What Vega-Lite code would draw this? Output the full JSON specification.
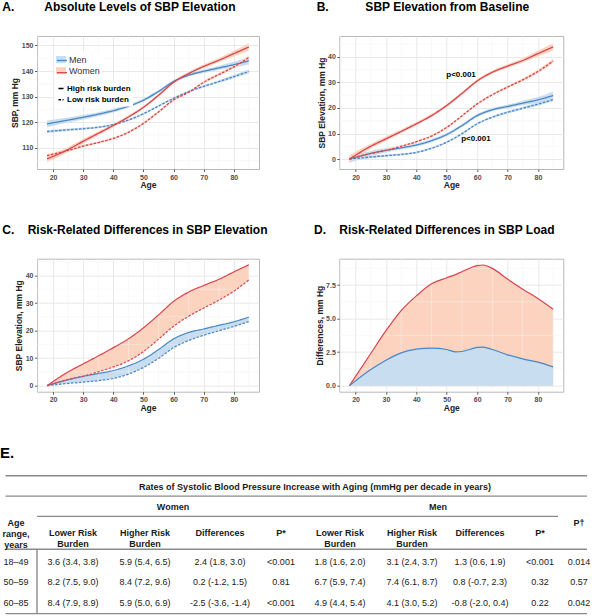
{
"$schema": "https://vega.github.io/schema/vega-lite/v6.json",
"padding": 0,
"background": "white",
"config": {
  "font": "Liberation Sans",
  "view": {"stroke": "#B8B8B8", "strokeWidth": 1, "fill": "white"},
  "axis": {"domain": false, "grid": true, "gridColor": "#E6E6E6", "gridWidth": 0.9, "tickColor": "#333333", "tickSize": 2.5, "tickWidth": 0.8, "tickCount": 20, "labelColor": "#4D4D4D", "labelFontSize": 7, "labelFontWeight": "bold", "labelPadding": 1.5, "titleFontSize": 8.5, "titleFontWeight": "bold", "titleColor": "#222222", "titlePadding": 1.5},
  "axisX": {"titlePadding": 0.5},
  "title": {"fontSize": 12, "fontWeight": "bold", "color": "black", "anchor": "start", "frame": "group", "baseline": "alphabetic", "offset": 21.5},
  "text": {"font": "Liberation Sans"}
},
"datasets": {
  "abs": [
    {"age":18,"sex":"Men","risk":"High","v":119.3,"lo":118.0,"hi":120.6},
    {"age":25,"sex":"Men","risk":"High","v":120.8,"lo":119.8,"hi":121.8},
    {"age":30,"sex":"Men","risk":"High","v":121.9,"lo":121.0,"hi":122.8},
    {"age":35,"sex":"Men","risk":"High","v":123.1,"lo":122.3,"hi":123.9},
    {"age":40,"sex":"Men","risk":"High","v":124.5,"lo":123.8,"hi":125.2},
    {"age":45,"sex":"Men","risk":"High","v":126.2,"lo":125.6,"hi":126.9},
    {"age":50,"sex":"Men","risk":"High","v":128.6,"lo":128.0,"hi":129.2},
    {"age":55,"sex":"Men","risk":"High","v":132.0,"lo":131.4,"hi":132.6},
    {"age":60,"sex":"Men","risk":"High","v":135.9,"lo":135.3,"hi":136.5},
    {"age":65,"sex":"Men","risk":"High","v":138.4,"lo":137.8,"hi":139.1},
    {"age":70,"sex":"Men","risk":"High","v":139.9,"lo":139.2,"hi":140.6},
    {"age":75,"sex":"Men","risk":"High","v":141.2,"lo":140.4,"hi":142.1},
    {"age":80,"sex":"Men","risk":"High","v":142.5,"lo":141.4,"hi":143.6},
    {"age":85,"sex":"Men","risk":"High","v":144.0,"lo":142.5,"hi":145.5},
    {"age":18,"sex":"Men","risk":"Low","v":116.3,"lo":115.7,"hi":116.9},
    {"age":25,"sex":"Men","risk":"Low","v":117.0,"lo":116.5,"hi":117.5},
    {"age":30,"sex":"Men","risk":"Low","v":117.4,"lo":117.0,"hi":117.9},
    {"age":35,"sex":"Men","risk":"Low","v":118.0,"lo":117.6,"hi":118.4},
    {"age":40,"sex":"Men","risk":"Low","v":119.0,"lo":118.6,"hi":119.4},
    {"age":45,"sex":"Men","risk":"Low","v":120.8,"lo":120.4,"hi":121.2},
    {"age":50,"sex":"Men","risk":"Low","v":123.3,"lo":122.9,"hi":123.7},
    {"age":55,"sex":"Men","risk":"Low","v":126.3,"lo":125.9,"hi":126.7},
    {"age":60,"sex":"Men","risk":"Low","v":129.3,"lo":128.9,"hi":129.7},
    {"age":65,"sex":"Men","risk":"Low","v":131.9,"lo":131.5,"hi":132.4},
    {"age":70,"sex":"Men","risk":"Low","v":134.0,"lo":133.5,"hi":134.5},
    {"age":75,"sex":"Men","risk":"Low","v":135.8,"lo":135.3,"hi":136.4},
    {"age":80,"sex":"Men","risk":"Low","v":137.8,"lo":137.2,"hi":138.5},
    {"age":85,"sex":"Men","risk":"Low","v":139.8,"lo":139.0,"hi":140.6},
    {"age":18,"sex":"Women","risk":"High","v":105.6,"lo":104.3,"hi":106.9},
    {"age":25,"sex":"Women","risk":"High","v":109.3,"lo":108.3,"hi":110.3},
    {"age":30,"sex":"Women","risk":"High","v":112.5,"lo":111.6,"hi":113.4},
    {"age":35,"sex":"Women","risk":"High","v":115.6,"lo":114.8,"hi":116.4},
    {"age":40,"sex":"Women","risk":"High","v":118.7,"lo":118.0,"hi":119.4},
    {"age":45,"sex":"Women","risk":"High","v":122.0,"lo":121.4,"hi":122.7},
    {"age":50,"sex":"Women","risk":"High","v":125.8,"lo":125.2,"hi":126.4},
    {"age":55,"sex":"Women","risk":"High","v":130.5,"lo":129.9,"hi":131.1},
    {"age":60,"sex":"Women","risk":"High","v":135.6,"lo":135.0,"hi":136.2},
    {"age":65,"sex":"Women","risk":"High","v":139.0,"lo":138.4,"hi":139.7},
    {"age":70,"sex":"Women","risk":"High","v":141.8,"lo":141.1,"hi":142.5},
    {"age":75,"sex":"Women","risk":"High","v":144.2,"lo":143.4,"hi":145.1},
    {"age":80,"sex":"Women","risk":"High","v":146.8,"lo":145.7,"hi":147.9},
    {"age":85,"sex":"Women","risk":"High","v":149.4,"lo":147.9,"hi":150.9},
    {"age":18,"sex":"Women","risk":"Low","v":106.9,"lo":106.3,"hi":107.5},
    {"age":25,"sex":"Women","risk":"Low","v":108.9,"lo":108.4,"hi":109.4},
    {"age":30,"sex":"Women","risk":"Low","v":110.6,"lo":110.2,"hi":111.1},
    {"age":35,"sex":"Women","risk":"Low","v":112.0,"lo":111.6,"hi":112.4},
    {"age":40,"sex":"Women","risk":"Low","v":113.6,"lo":113.2,"hi":114.0},
    {"age":45,"sex":"Women","risk":"Low","v":116.0,"lo":115.6,"hi":116.4},
    {"age":50,"sex":"Women","risk":"Low","v":119.5,"lo":119.1,"hi":119.9},
    {"age":55,"sex":"Women","risk":"Low","v":124.0,"lo":123.6,"hi":124.4},
    {"age":60,"sex":"Women","risk":"Low","v":128.7,"lo":128.3,"hi":129.1},
    {"age":65,"sex":"Women","risk":"Low","v":131.7,"lo":131.3,"hi":132.1},
    {"age":70,"sex":"Women","risk":"Low","v":135.6,"lo":135.1,"hi":136.1},
    {"age":75,"sex":"Women","risk":"Low","v":138.6,"lo":138.1,"hi":139.2},
    {"age":80,"sex":"Women","risk":"Low","v":141.6,"lo":141.0,"hi":142.3},
    {"age":85,"sex":"Women","risk":"Low","v":145.3,"lo":144.5,"hi":146.1}
  ],
  "elev": [
    {"age":18,"sex":"Men","risk":"High","v":0,"lo":-1.5,"hi":1.5},
    {"age":25,"sex":"Men","risk":"High","v":2.2,"lo":1.2,"hi":3.2},
    {"age":30,"sex":"Men","risk":"High","v":3.4,"lo":2.6,"hi":4.3},
    {"age":35,"sex":"Men","risk":"High","v":4.4,"lo":3.7,"hi":5.2},
    {"age":40,"sex":"Men","risk":"High","v":5.5,"lo":4.8,"hi":6.2},
    {"age":45,"sex":"Men","risk":"High","v":7.2,"lo":6.6,"hi":7.9},
    {"age":50,"sex":"Men","risk":"High","v":9.6,"lo":9.0,"hi":10.2},
    {"age":55,"sex":"Men","risk":"High","v":13.1,"lo":12.5,"hi":13.7},
    {"age":60,"sex":"Men","risk":"High","v":17.0,"lo":16.4,"hi":17.6},
    {"age":65,"sex":"Men","risk":"High","v":19.3,"lo":18.7,"hi":20.0},
    {"age":70,"sex":"Men","risk":"High","v":20.6,"lo":19.9,"hi":21.3},
    {"age":75,"sex":"Men","risk":"High","v":21.9,"lo":21.1,"hi":22.8},
    {"age":80,"sex":"Men","risk":"High","v":23.2,"lo":22.1,"hi":24.3},
    {"age":85,"sex":"Men","risk":"High","v":24.9,"lo":23.3,"hi":26.5},
    {"age":18,"sex":"Men","risk":"Low","v":0,"lo":-0.6,"hi":0.6},
    {"age":25,"sex":"Men","risk":"Low","v":0.8,"lo":0.3,"hi":1.3},
    {"age":30,"sex":"Men","risk":"Low","v":1.3,"lo":0.9,"hi":1.8},
    {"age":35,"sex":"Men","risk":"Low","v":1.8,"lo":1.4,"hi":2.2},
    {"age":40,"sex":"Men","risk":"Low","v":2.6,"lo":2.2,"hi":3.0},
    {"age":45,"sex":"Men","risk":"Low","v":4.2,"lo":3.8,"hi":4.6},
    {"age":50,"sex":"Men","risk":"Low","v":6.6,"lo":6.2,"hi":7.0},
    {"age":55,"sex":"Men","risk":"Low","v":9.9,"lo":9.5,"hi":10.3},
    {"age":60,"sex":"Men","risk":"Low","v":13.8,"lo":13.4,"hi":14.2},
    {"age":65,"sex":"Men","risk":"Low","v":16.4,"lo":16.0,"hi":16.9},
    {"age":70,"sex":"Men","risk":"Low","v":18.3,"lo":17.8,"hi":18.8},
    {"age":75,"sex":"Men","risk":"Low","v":19.9,"lo":19.4,"hi":20.5},
    {"age":80,"sex":"Men","risk":"Low","v":21.5,"lo":20.9,"hi":22.2},
    {"age":85,"sex":"Men","risk":"Low","v":23.3,"lo":22.5,"hi":24.1},
    {"age":18,"sex":"Women","risk":"High","v":0,"lo":-1.5,"hi":1.5},
    {"age":25,"sex":"Women","risk":"High","v":5.0,"lo":4.0,"hi":6.0},
    {"age":30,"sex":"Women","risk":"High","v":7.9,"lo":7.1,"hi":8.8},
    {"age":35,"sex":"Women","risk":"High","v":10.8,"lo":10.1,"hi":11.6},
    {"age":40,"sex":"Women","risk":"High","v":13.8,"lo":13.1,"hi":14.5},
    {"age":45,"sex":"Women","risk":"High","v":17.0,"lo":16.4,"hi":17.7},
    {"age":50,"sex":"Women","risk":"High","v":21.0,"lo":20.4,"hi":21.6},
    {"age":55,"sex":"Women","risk":"High","v":25.7,"lo":25.1,"hi":26.3},
    {"age":60,"sex":"Women","risk":"High","v":30.6,"lo":30.0,"hi":31.2},
    {"age":65,"sex":"Women","risk":"High","v":34.0,"lo":33.4,"hi":34.7},
    {"age":70,"sex":"Women","risk":"High","v":36.4,"lo":35.7,"hi":37.1},
    {"age":75,"sex":"Women","risk":"High","v":38.6,"lo":37.8,"hi":39.5},
    {"age":80,"sex":"Women","risk":"High","v":41.3,"lo":40.2,"hi":42.4},
    {"age":85,"sex":"Women","risk":"High","v":43.9,"lo":42.4,"hi":45.4},
    {"age":18,"sex":"Women","risk":"Low","v":0,"lo":-0.6,"hi":0.6},
    {"age":25,"sex":"Women","risk":"Low","v":2.2,"lo":1.7,"hi":2.7},
    {"age":30,"sex":"Women","risk":"Low","v":3.4,"lo":3.0,"hi":3.9},
    {"age":35,"sex":"Women","risk":"Low","v":5.0,"lo":4.6,"hi":5.4},
    {"age":40,"sex":"Women","risk":"Low","v":6.8,"lo":6.4,"hi":7.2},
    {"age":45,"sex":"Women","risk":"Low","v":9.0,"lo":8.6,"hi":9.4},
    {"age":50,"sex":"Women","risk":"Low","v":12.4,"lo":12.0,"hi":12.8},
    {"age":55,"sex":"Women","risk":"Low","v":16.9,"lo":16.5,"hi":17.3},
    {"age":60,"sex":"Women","risk":"Low","v":21.6,"lo":21.2,"hi":22.0},
    {"age":65,"sex":"Women","risk":"Low","v":25.2,"lo":24.8,"hi":25.7},
    {"age":70,"sex":"Women","risk":"Low","v":28.2,"lo":27.7,"hi":28.7},
    {"age":75,"sex":"Women","risk":"Low","v":31.0,"lo":30.5,"hi":31.6},
    {"age":80,"sex":"Women","risk":"Low","v":34.3,"lo":33.7,"hi":35.0},
    {"age":85,"sex":"Women","risk":"Low","v":38.4,"lo":37.6,"hi":39.2}
  ],
  "load": [
    {"age":18,"sex":"Women","d":0},{"age":25,"sex":"Women","d":2.4},{"age":30,"sex":"Women","d":4.1},{"age":35,"sex":"Women","d":5.6},
    {"age":40,"sex":"Women","d":6.7},{"age":45,"sex":"Women","d":7.6},{"age":50,"sex":"Women","d":8.05},{"age":53,"sex":"Women","d":8.3},
    {"age":55,"sex":"Women","d":8.5},{"age":60,"sex":"Women","d":8.95},{"age":62,"sex":"Women","d":9.0},{"age":65,"sex":"Women","d":8.75},
    {"age":70,"sex":"Women","d":7.95},{"age":75,"sex":"Women","d":7.2},{"age":80,"sex":"Women","d":6.5},{"age":85,"sex":"Women","d":5.7},
    {"age":18,"sex":"Men","d":0},{"age":25,"sex":"Men","d":1.2},{"age":30,"sex":"Men","d":1.9},{"age":35,"sex":"Men","d":2.45},
    {"age":40,"sex":"Men","d":2.72},{"age":45,"sex":"Men","d":2.8},{"age":50,"sex":"Men","d":2.7},{"age":53,"sex":"Men","d":2.52},
    {"age":55,"sex":"Men","d":2.55},{"age":60,"sex":"Men","d":2.85},{"age":62,"sex":"Men","d":2.88},{"age":65,"sex":"Men","d":2.7},
    {"age":70,"sex":"Men","d":2.3},{"age":75,"sex":"Men","d":2.0},{"age":80,"sex":"Men","d":1.75},{"age":85,"sex":"Men","d":1.4}
  ],
  "minorAge": [{"g":15},{"g":25},{"g":35},{"g":45},{"g":55},{"g":65},{"g":75},{"g":85}],
  "minorA": [{"g":105},{"g":115},{"g":125},{"g":135},{"g":145}],
  "minorB": [{"g":5},{"g":15},{"g":25},{"g":35},{"g":45}],
  "minorD": [{"g":1.25},{"g":3.75},{"g":6.25},{"g":8.75}],
  "tlines": [
    {"c1":-0.5,"c2":9.5,"r1":0,"r2":0},
    {"c1":-0.5,"c2":9.5,"r1":2,"r2":2},
    {"c1":0.5,"c2":8.5,"r1":3.98,"r2":3.98},
    {"c1":-0.5,"c2":9.5,"r1":7.2,"r2":7.2},
    {"c1":-0.5,"c2":9.5,"r1":13.5,"r2":13.5},
    {"c1":0.5,"c2":0.5,"r1":7.2,"r2":13.5}
  ],
  "ttext": [
    {"c":4.5,"r":1.07,"k":"h","t":"Rates of Systolic Blood Pressure Increase with Aging (mmHg per decade in years)"},
    {"c":2.5,"r":3.05,"k":"h","t":"Women"},
    {"c":6.5,"r":3.05,"k":"h","t":"Men"},
    {"c":0,"r":4.65,"k":"h","t":"Age\nrange,\nyears"},
    {"c":1,"r":5.6,"k":"h","t":"Lower Risk\nBurden"},
    {"c":2,"r":5.6,"k":"h","t":"Higher Risk\nBurden"},
    {"c":3,"r":5.6,"k":"h","t":"Differences"},
    {"c":4,"r":5.6,"k":"h","t":"P*"},
    {"c":5,"r":5.6,"k":"h","t":"Lower Risk\nBurden"},
    {"c":6,"r":5.6,"k":"h","t":"Higher Risk\nBurden"},
    {"c":7,"r":5.6,"k":"h","t":"Differences"},
    {"c":8,"r":5.6,"k":"h","t":"P*"},
    {"c":9,"r":4.65,"k":"h","t":"P†"},
    {"c":0,"r":8.47,"k":"b","t":"18–49"},
    {"c":1,"r":8.47,"k":"b","t":"3.6 (3.4, 3.8)"},
    {"c":2,"r":8.47,"k":"b","t":"5.9 (5.4, 6.5)"},
    {"c":3,"r":8.47,"k":"b","t":"2.4 (1.8, 3.0)"},
    {"c":4,"r":8.47,"k":"b","t":"<0.001"},
    {"c":5,"r":8.47,"k":"b","t":"1.8 (1.6, 2.0)"},
    {"c":6,"r":8.47,"k":"b","t":"3.1 (2.4, 3.7)"},
    {"c":7,"r":8.47,"k":"b","t":"1.3 (0.6, 1.9)"},
    {"c":8,"r":8.47,"k":"b","t":"<0.001"},
    {"c":9,"r":8.47,"k":"b","t":"0.014"},
    {"c":0,"r":10.45,"k":"b","t":"50–59"},
    {"c":1,"r":10.45,"k":"b","t":"8.2 (7.5, 9.0)"},
    {"c":2,"r":10.45,"k":"b","t":"8.4 (7.2, 9.6)"},
    {"c":3,"r":10.45,"k":"b","t":"0.2 (-1.2, 1.5)"},
    {"c":4,"r":10.45,"k":"b","t":"0.81"},
    {"c":5,"r":10.45,"k":"b","t":"6.7 (5.9, 7.4)"},
    {"c":6,"r":10.45,"k":"b","t":"7.4 (6.1, 8.7)"},
    {"c":7,"r":10.45,"k":"b","t":"0.8 (-0.7, 2.3)"},
    {"c":8,"r":10.45,"k":"b","t":"0.32"},
    {"c":9,"r":10.45,"k":"b","t":"0.57"},
    {"c":0,"r":12.46,"k":"b","t":"60–85"},
    {"c":1,"r":12.46,"k":"b","t":"8.4 (7.9, 8.9)"},
    {"c":2,"r":12.46,"k":"b","t":"5.9 (5.0, 6.9)"},
    {"c":3,"r":12.46,"k":"b","t":"-2.5 (-3.6, -1.4)"},
    {"c":4,"r":12.46,"k":"b","t":"<0.001"},
    {"c":5,"r":12.46,"k":"b","t":"4.9 (4.4, 5.4)"},
    {"c":6,"r":12.46,"k":"b","t":"4.1 (3.0, 5.2)"},
    {"c":7,"r":12.46,"k":"b","t":"-0.8 (-2.0, 0.4)"},
    {"c":8,"r":12.46,"k":"b","t":"0.22"},
    {"c":9,"r":12.46,"k":"b","t":"0.042"}
  ]
},
"columns": 2,
"spacing": {"row": 89.7, "column": 80.3},
"bounds": "flush",
"concat": [
  {
    "width": 222, "height": 133,
    "title": {"text": "A.\u00a0\u00a0\u00a0\u00a0\u00a0\u00a0\u00a0\u00a0\u00a0Absolute Levels of SBP Elevation", "dx": -34.7},
    "layer": [
      {"data": {"name": "abs"},
       "mark": {"type": "area", "interpolate": "monotone"},
       "encoding": {
         "x": {"field": "age", "type": "quantitative", "scale": {"domain": [14.65, 88.35], "nice": false, "zero": false}, "axis": {"title": "Age", "values": [20,30,40,50,60,70,80], "tickCount": 20, "format": "d"}},
         "y": {"field": "lo", "type": "quantitative", "stack": null, "scale": {"domain": [101.65, 153.7], "nice": false, "zero": false}, "axis": {"title": "SBP, mm Hg", "values": [110,120,130,140,150], "tickCount": 20, "format": "d"}},
         "y2": {"field": "hi"},
         "fill": {"field": "sex", "type": "nominal", "scale": {"domain": ["Men", "Women"], "range": ["#C8DDEF", "#FCD3BE"]}, "legend": {"title": null, "orient": "none", "legendX": 17, "legendY": 16.5, "symbolType": "M-1,-0.7H1V0.7H-1Z", "symbolSize": 100, "symbolStrokeWidth": 0, "labelFontSize": 9, "labelColor": "#333333", "labelOffset": 3, "rowPadding": 1.2, "padding": 2, "fillColor": "white"}},
         "detail": {"field": "risk"}
       }},
      {"data": {"name": "minorAge"}, "mark": {"type": "rule", "color": "#F2F2F2", "strokeWidth": 0.5}, "encoding": {"x": {"field": "g", "type": "quantitative"}}},
      {"data": {"name": "minorA"}, "mark": {"type": "rule", "color": "#F2F2F2", "strokeWidth": 0.5}, "encoding": {"y": {"field": "g", "type": "quantitative"}}},
      {"data": {"name": "abs"},
       "mark": {"type": "line", "interpolate": "monotone", "strokeWidth": 1.3},
       "encoding": {
         "x": {"field": "age", "type": "quantitative"},
         "y": {"field": "v", "type": "quantitative"},
         "stroke": {"field": "sex", "type": "nominal", "scale": {"range": ["#4A86C6", "#D7434F"]}, "legend": {"title": null, "orient": "none", "legendX": 17, "legendY": 16.5, "labelExpr": "''", "symbolType": "stroke", "symbolSize": 100, "symbolStrokeWidth": 1.3, "labelFontSize": 9, "labelOffset": 3, "rowPadding": 1.2, "padding": 2}},
         "strokeDash": {"field": "risk", "type": "nominal", "scale": {"domain": ["High", "Low"], "range": [[1, 0], [2.5, 1.5]]}, "legend": {"title": null, "orient": "none", "legendX": 18, "legendY": 46.5, "labelExpr": "datum.label + ' risk burden'", "symbolType": "stroke", "symbolSize": 25, "symbolStrokeColor": "black", "symbolStrokeWidth": 1.5, "labelFontSize": 8, "labelFontWeight": "bold", "labelColor": "black", "labelOffset": 2, "rowPadding": 3.3, "padding": 2, "fillColor": "white"}}
       }}
    ]
  },
  {
    "width": 224, "height": 133,
    "title": {"text": "B.\u00a0\u00a0\u00a0\u00a0\u00a0\u00a0\u00a0\u00a0\u00a0\u00a0\u00a0SBP Elevation from Baseline", "dx": -22.6},
    "layer": [
      {"data": {"name": "elev"},
       "mark": {"type": "area", "interpolate": "monotone"},
       "encoding": {
         "x": {"field": "age", "type": "quantitative", "scale": {"domain": [14.65, 88.35], "nice": false, "zero": false}, "axis": {"title": "Age", "values": [20,30,40,50,60,70,80], "tickCount": 20, "format": "d"}},
         "y": {"field": "lo", "type": "quantitative", "stack": null, "scale": {"domain": [-3.9, 48.2], "nice": false, "zero": false}, "axis": {"title": "SBP Elevation, mm Hg", "values": [0,10,20,30,40], "tickCount": 20, "format": "d"}},
         "y2": {"field": "hi"},
         "fill": {"field": "sex", "type": "nominal", "scale": {"domain": ["Men", "Women"], "range": ["#C8DDEF", "#FCD3BE"]}, "legend": {"title": null, "orient": "none", "legendX": 17, "legendY": 16.9, "symbolType": "M-1,-0.7H1V0.7H-1Z", "symbolSize": 100, "symbolStrokeWidth": 0, "labelFontSize": 9, "labelColor": "#333333", "labelOffset": 3, "rowPadding": 1.2, "padding": 2, "fillColor": "white"}},
         "detail": {"field": "risk"}
       }},
      {"data": {"name": "minorAge"}, "mark": {"type": "rule", "color": "#F2F2F2", "strokeWidth": 0.5}, "encoding": {"x": {"field": "g", "type": "quantitative"}}},
      {"data": {"name": "minorB"}, "mark": {"type": "rule", "color": "#F2F2F2", "strokeWidth": 0.5}, "encoding": {"y": {"field": "g", "type": "quantitative"}}},
      {"data": {"name": "elev"},
       "mark": {"type": "line", "interpolate": "monotone", "strokeWidth": 1.3},
       "encoding": {
         "x": {"field": "age", "type": "quantitative"},
         "y": {"field": "v", "type": "quantitative"},
         "stroke": {"field": "sex", "type": "nominal", "scale": {"range": ["#4A86C6", "#D7434F"]}, "legend": {"title": null, "orient": "none", "legendX": 17, "legendY": 16.9, "labelExpr": "''", "symbolType": "stroke", "symbolSize": 100, "symbolStrokeWidth": 1.3, "labelFontSize": 9, "labelOffset": 3, "rowPadding": 1.2, "padding": 2}},
         "strokeDash": {"field": "risk", "type": "nominal", "scale": {"domain": ["High", "Low"], "range": [[1, 0], [2.5, 1.5]]}, "legend": {"title": null, "orient": "none", "legendX": 17, "legendY": 47.5, "labelExpr": "datum.label + ' risk burden'", "symbolType": "stroke", "symbolSize": 25, "symbolStrokeColor": "black", "symbolStrokeWidth": 1.5, "labelFontSize": 8, "labelFontWeight": "bold", "labelColor": "black", "labelOffset": 2.5, "rowPadding": 4, "padding": 2, "fillColor": "white"}}
       }},
      {"data": {"values": [{"age": 54.7, "v": 33.0, "t": "p<0.001"}, {"age": 59.6, "v": 7.7, "t": "p<0.001"}]},
       "mark": {"type": "text", "fontSize": 8, "fontWeight": "bold", "color": "black"},
       "encoding": {"x": {"field": "age", "type": "quantitative"}, "y": {"field": "v", "type": "quantitative"}, "text": {"field": "t"}}}
    ]
  },
  {
    "width": 222, "height": 133,
    "title": {"text": "C.\u00a0\u00a0\u00a0\u00a0Risk-Related Differences in SBP Elevation", "dx": -34.7},
    "layer": [
      {"data": {"name": "elev"},
       "transform": [{"pivot": "risk", "value": "v", "groupby": ["age", "sex"]}],
       "mark": {"type": "area", "interpolate": "monotone"},
       "encoding": {
         "x": {"field": "age", "type": "quantitative", "scale": {"domain": [14.65, 88.35], "nice": false, "zero": false}, "axis": {"title": "Age", "values": [20,30,40,50,60,70,80], "tickCount": 20, "format": "d"}},
         "y": {"field": "High", "type": "quantitative", "stack": null, "scale": {"domain": [-2.2, 46.1], "nice": false, "zero": false}, "axis": {"title": "SBP Elevation, mm Hg", "values": [0,10,20,30,40], "tickCount": 20, "format": "d"}},
         "y2": {"field": "Low"},
         "fill": {"field": "sex", "type": "nominal", "scale": {"domain": ["Men", "Women"], "range": ["#C8DDEF", "#FCD3BE"]}, "legend": {"title": null, "orient": "none", "legendX": 17.5, "legendY": 16.8, "symbolType": "M-1,-0.7H1V0.7H-1Z", "symbolSize": 100, "symbolStrokeWidth": 0, "labelFontSize": 9, "labelColor": "#333333", "labelOffset": 3, "rowPadding": 0.8, "padding": 2, "fillColor": "white"}}
       }},
      {"data": {"name": "minorAge"}, "mark": {"type": "rule", "color": "#F2F2F2", "strokeWidth": 0.5}, "encoding": {"x": {"field": "g", "type": "quantitative"}}},
      {"data": {"name": "minorB"}, "mark": {"type": "rule", "color": "#F2F2F2", "strokeWidth": 0.5}, "encoding": {"y": {"field": "g", "type": "quantitative"}}},
      {"data": {"name": "elev"},
       "mark": {"type": "line", "interpolate": "monotone", "strokeWidth": 1.2},
       "encoding": {
         "x": {"field": "age", "type": "quantitative"},
         "y": {"field": "v", "type": "quantitative"},
         "stroke": {"field": "sex", "type": "nominal", "scale": {"range": ["#4A86C6", "#D7434F"]}, "legend": {"title": null, "orient": "none", "legendX": 17.5, "legendY": 16.8, "labelExpr": "''", "symbolType": "stroke", "symbolSize": 100, "symbolStrokeWidth": 1.3, "labelFontSize": 9, "labelOffset": 3, "rowPadding": 0.8, "padding": 2}},
         "strokeDash": {"field": "risk", "type": "nominal", "scale": {"domain": ["High", "Low"], "range": [[1, 0], [2.5, 1.5]]}, "legend": {"title": null, "orient": "none", "legendX": 18, "legendY": 46.6, "labelExpr": "datum.label + ' risk burden'", "symbolType": "stroke", "symbolSize": 25, "symbolStrokeColor": "black", "symbolStrokeWidth": 1.5, "labelFontSize": 8, "labelFontWeight": "bold", "labelColor": "black", "labelOffset": 2, "rowPadding": 3, "padding": 2, "fillColor": "white"}}
       }}
    ]
  },
  {
    "width": 224, "height": 133,
    "title": {"text": "D.\u00a0\u00a0\u00a0\u00a0Risk-Related Differences in SBP Load", "dx": -25.3},
    "layer": [
      {"data": {"name": "load"},
       "transform": [{"filter": "datum.sex === 'Women'"}],
       "mark": {"type": "area", "interpolate": "monotone"},
       "encoding": {
         "x": {"field": "age", "type": "quantitative", "scale": {"domain": [14.65, 88.35], "nice": false, "zero": false}, "axis": {"title": "Age", "values": [20,30,40,50,60,70,80], "tickCount": 20, "format": "d"}},
         "y": {"field": "d", "type": "quantitative", "stack": null, "scale": {"domain": [-0.45, 9.47], "nice": false, "zero": false}, "axis": {"title": "Differences, mm Hg", "values": [0,2.5,5,7.5], "tickCount": 20, "format": ".1f"}},
         "fill": {"field": "sex", "type": "nominal", "scale": {"domain": ["Men", "Women"], "range": ["#C8DDEF", "#FCD3BE"]}, "legend": {"title": null, "orient": "none", "legendX": 16.6, "legendY": 17.7, "symbolType": "M-1,-0.7H1V0.7H-1Z", "symbolSize": 100, "symbolStrokeWidth": 0, "labelFontSize": 9, "labelColor": "#333333", "labelOffset": 3, "rowPadding": 1, "padding": 2, "fillColor": "white"}}
       }},
      {"data": {"name": "minorAge"}, "mark": {"type": "rule", "color": "#F2F2F2", "strokeWidth": 0.5}, "encoding": {"x": {"field": "g", "type": "quantitative"}}},
      {"data": {"name": "minorD"}, "mark": {"type": "rule", "color": "#F2F2F2", "strokeWidth": 0.5}, "encoding": {"y": {"field": "g", "type": "quantitative"}}},
      {"data": {"name": "load"},
       "transform": [{"filter": "datum.sex === 'Men'"}],
       "mark": {"type": "area", "interpolate": "monotone"},
       "encoding": {
         "x": {"field": "age", "type": "quantitative"},
         "y": {"field": "d", "type": "quantitative", "stack": null},
         "fill": {"field": "sex", "type": "nominal"}
       }},
      {"data": {"name": "load"},
       "mark": {"type": "line", "interpolate": "monotone", "strokeWidth": 1.2},
       "encoding": {
         "x": {"field": "age", "type": "quantitative"},
         "y": {"field": "d", "type": "quantitative"},
         "stroke": {"field": "sex", "type": "nominal", "scale": {"range": ["#4A86C6", "#D7434F"]}, "legend": {"title": null, "orient": "none", "legendX": 16.6, "legendY": 17.7, "labelExpr": "''", "symbolType": "stroke", "symbolSize": 100, "symbolStrokeWidth": 1.3, "labelFontSize": 9, "labelOffset": 3, "rowPadding": 1, "padding": 2}}
       }}
    ]
  },
  {
    "width": 222, "height": 137,
    "view": {"stroke": null, "fill": null},
    "title": {"text": "E.", "dx": -37, "fontSize": 15, "offset": 14},
    "layer": [
      {"data": {"name": "tlines"},
       "mark": {"type": "rule", "color": "#8A8A8A", "strokeWidth": 1.4},
       "encoding": {
         "x": {"field": "c1", "type": "quantitative", "scale": {"domain": [-0.5,0,0.5,1,1.5,2,2.5,3,3.5,4,4.5,5,5.5,6,6.5,7,7.5,8,8.5,9,9.5], "range": [-42,-21,0,36,72,108,136,183,214,244,278,303,339,375,401,443,473,503,521,542,558]}, "axis": null},
         "x2": {"field": "c2"},
         "y": {"field": "r1", "type": "quantitative", "scale": {"domain": [0, 13.5], "range": [-5.7, 137.3]}, "axis": null},
         "y2": {"field": "r2"}
       }},
      {"data": {"name": "ttext"},
       "transform": [{"filter": "datum.k === 'h'"}],
       "mark": {"type": "text", "fontSize": 9, "fontWeight": "bold", "color": "#1A1A1A", "lineBreak": "\n", "lineHeight": 10.7},
       "encoding": {
         "x": {"field": "c", "type": "quantitative", "axis": null},
         "y": {"field": "r", "type": "quantitative", "axis": null},
         "text": {"field": "t"}
       }},
      {"data": {"name": "ttext"},
       "transform": [{"filter": "datum.k === 'b'"}],
       "mark": {"type": "text", "fontSize": 9, "color": "#1A1A1A"},
       "encoding": {
         "x": {"field": "c", "type": "quantitative", "axis": null},
         "y": {"field": "r", "type": "quantitative", "axis": null},
         "text": {"field": "t"}
       }}
    ]
  }
]
}
